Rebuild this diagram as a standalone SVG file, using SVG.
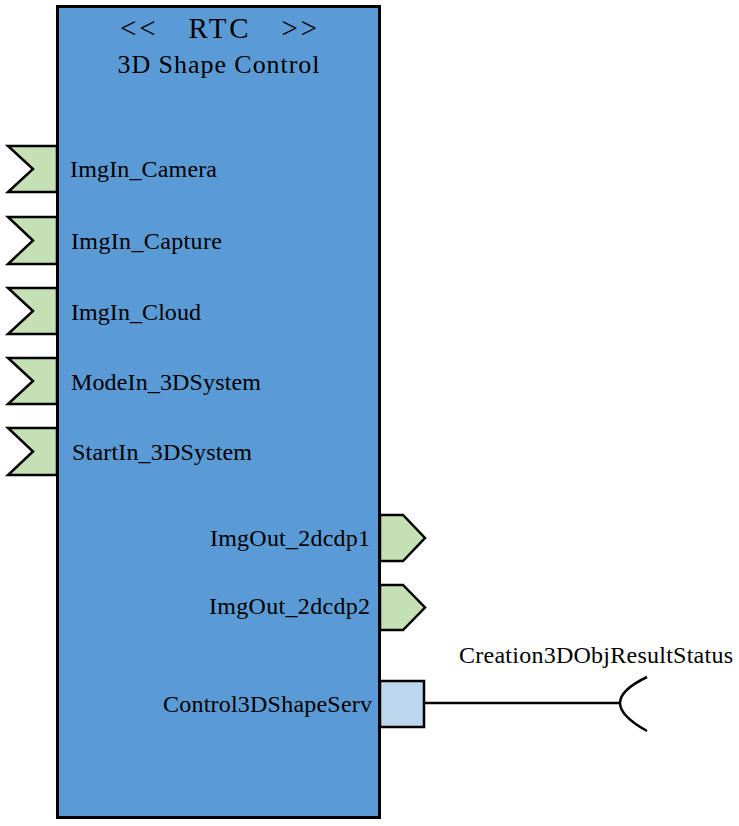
<svg xmlns="http://www.w3.org/2000/svg" width="739" height="826" viewBox="0 0 739 826">
<style>
.box{fill:#5B9BD5;stroke:#000;stroke-width:3}
.port{fill:#C5E0B4;stroke:#000;stroke-width:2.5;stroke-linejoin:miter}
.svc{fill:#BDD7EE;stroke:#000;stroke-width:2.5}
.lbl{font-family:"Liberation Serif",serif;font-size:24px;fill:#000}
.conn{fill:none;stroke:#000;stroke-width:2.5}
</style>
<rect width="739" height="826" fill="#fff"/>
<g id="rtc">
<rect class="box" x="57.5" y="6.5" width="322" height="811"/>
<text class="lbl" x="218.5" y="38" text-anchor="middle" style="font-size:29px" textLength="197" xml:space="preserve">&lt;&lt;   RTC   &gt;&gt;</text>
<text class="lbl" x="218.5" y="73" text-anchor="middle" style="font-size:26px" textLength="202">3D Shape Control</text>
</g>
<g id="in-camera">
<polygon class="port" points="8,146 57,146 57,192 8,192 33,169"/>
<text class="lbl" x="70" y="177" textLength="147">ImgIn_Camera</text>
</g>
<g id="in-capture">
<polygon class="port" points="8,217 57,217 57,264 8,264 33,240.5"/>
<text class="lbl" x="71" y="249" textLength="151">ImgIn_Capture</text>
</g>
<g id="in-cloud">
<polygon class="port" points="8,288 57,288 57,334 8,334 33,311"/>
<text class="lbl" x="71" y="320" textLength="130">ImgIn_Cloud</text>
</g>
<g id="in-mode">
<polygon class="port" points="8,358 57,358 57,404 8,404 33,381"/>
<text class="lbl" x="71" y="390" textLength="190">ModeIn_3DSystem</text>
</g>
<g id="in-start">
<polygon class="port" points="8,428 57,428 57,475 8,475 33,451.5"/>
<text class="lbl" x="72" y="460" textLength="180">StartIn_3DSystem</text>
</g>
<g id="out-1">
<polygon class="port" points="380,515 403,515 425,538 403,561 380,561"/>
<text class="lbl" x="370" y="546" text-anchor="end" textLength="160">ImgOut_2dcdp1</text>
</g>
<g id="out-2">
<polygon class="port" points="380,585 403,585 425,607.5 403,630 380,630"/>
<text class="lbl" x="370" y="614" text-anchor="end" textLength="161">ImgOut_2dcdp2</text>
</g>
<g id="svc-port">
<rect class="svc" x="380" y="681" width="44" height="46"/>
<text class="lbl" x="372" y="712" text-anchor="end" textLength="209">Control3DShapeServ</text>
</g>
<g id="required-if">
<path class="conn" d="M647,677 Q620,690 620,703 Q620,716 647,731"/>
<text class="lbl" x="459" y="663" textLength="274">Creation3DObjResultStatus</text>
</g>
<g id="connectors">
<line class="conn" x1="424" y1="703" x2="620" y2="703"/>
</g>
</svg>
